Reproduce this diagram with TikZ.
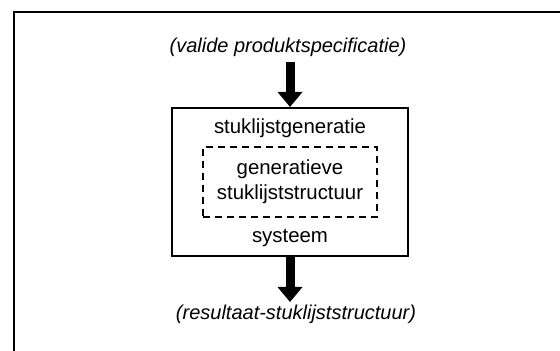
\documentclass[tikz,border=0pt]{standalone}
\usepackage{fontspec}
\setmainfont{Liberation Sans}
\usetikzlibrary{arrows.meta,positioning}

\begin{document}
\begin{tikzpicture}[x=0.5pt,y=-0.5pt,
	blk/.style={draw, line width=1pt, minimum width=118pt, minimum height=74pt, inner sep=0},
	sub/.style={draw, line width=0.75pt, dash pattern=on 3.5pt off 2.5pt, minimum width=87pt, minimum height=35pt, align=center, inner sep=0},
	txt/.style={font=\fontsize{10.2}{12.5}\selectfont, inner sep=0},
	io/.style={font=\fontsize{10}{12}\selectfont\itshape, inner sep=0},
	flow/.style={line width=4.5pt, -{Triangle[width=12pt,length=7.5pt]}}]
	\useasboundingbox (0,0) rectangle (560,351);
	\draw[line width=1pt] (14,351) -- (14,12) -- (560,12);

	\node[blk] at (290,182) (sys) {};
	\node[sub, txt] at (290,182) (gen) {generatieve\\stuklijststructuur};
	\node[txt] at (290,128) (top) {stuklijstgeneratie};
	\node[txt] at (290,238) (bot) {systeem};

	\node[io] at (288,47) (in) {(valide produktspecificatie)};
	\node[io] at (296,314) (out) {(resultaat-stuklijststructuur)};
	\coordinate (src) at (290,62);
	\coordinate (dst) at (290,302);
	\draw[flow] (src) -- (sys.north);
	\draw[flow] (sys.south) -- (dst);
\end{tikzpicture}
\end{document}
